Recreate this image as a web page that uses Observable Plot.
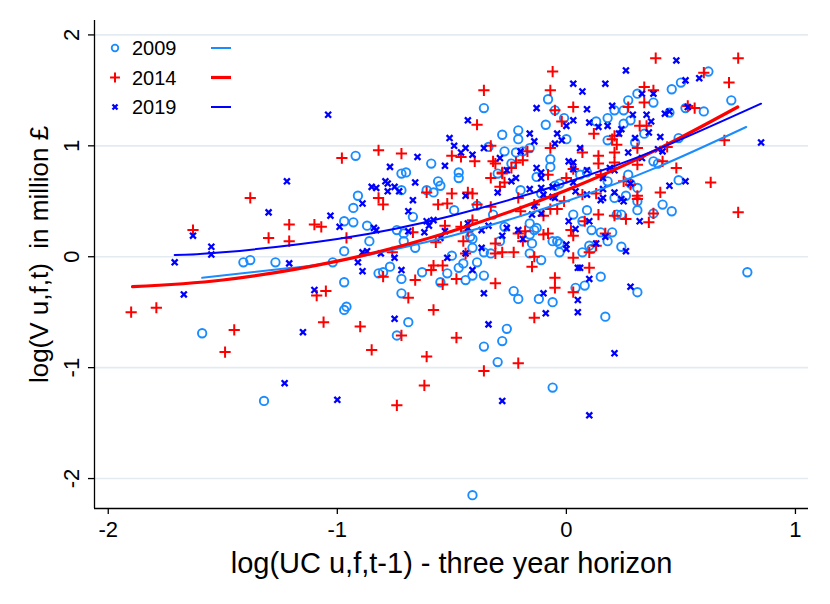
<!DOCTYPE html>
<html><head><meta charset="utf-8">
<script src="https://cdn.jsdelivr.net/npm/d3@7"></script>
<script src="https://cdn.jsdelivr.net/npm/@observablehq/plot@0.6"></script>
<style>body{margin:0;background:#fff;} svg{display:block;}</style>
</head><body><div id="chart"></div>
<script>
const years = ["2009", "2014", "2019"];
const colors = ["#1a8cff", "#ff0000", "#0000ff"];
const xTicks = [-2, -1, 0, 1];
const yTicks = [-2, -1, 0, 1, 2];
const xTitle = "log(UC u,f,t-1) - three year horizon";
const yTitle = "log(V u,f,t)  in million £";

const pts2009 = [[0.62,1.67],[0.72,1.41],[0.50,1.57],[0.46,1.51],[0.38,1.39],[0.31,1.47],[0.27,1.41],[0.21,1.32],[0.25,1.32],[0.18,1.25],
[0.13,1.22],[0.28,1.23],[0.25,1.20],[0.34,1.11],[0.18,1.05],[0.30,1.03],[0.49,1.07],[0.52,1.34],[0.60,1.31],[0.45,1.30],
[0.38,0.86],[0.40,0.84],[0.49,0.69],[0.27,0.74],[0.31,0.62],[0.18,0.68],[0.06,0.74],[0.09,0.76],[0.26,0.55],[0.21,0.53],
[-0.36,1.34],[-0.92,0.91],[-0.91,0.55],[-0.28,1.10],[-0.21,1.14],[-0.21,1.06],[-0.08,1.42],[-0.05,1.32],[-0.09,1.19],[-0.01,1.25],
[0.00,1.06],[-0.27,0.95],[-0.34,0.99],[-0.22,0.94],[-0.19,0.95],[-0.16,0.98],[-0.59,0.84],[-0.72,0.75],[-0.70,0.76],[-0.47,0.76],
[-0.47,0.71],[-0.56,0.68],[-0.55,0.64],[-0.61,0.60],[-0.58,0.58],[-0.72,0.60],[-0.07,0.88],[-0.07,0.81],[-0.13,0.72],[-0.24,0.84],
[-0.30,0.75],[-0.20,0.60],[-0.03,0.66],[-0.11,0.57],[-0.93,0.44],[-0.97,0.32],[-0.93,0.31],[-0.87,0.28],[-0.86,0.14],[-0.97,0.05],
[-1.02,-0.05],[-0.67,0.36],[-0.74,0.24],[-0.71,0.21],[-0.71,0.14],[-0.66,0.08],[-0.49,0.42],[-0.39,0.46],[-0.32,0.38],[-0.42,0.18],
[-0.41,0.16],[-0.41,0.08],[-0.36,0.04],[-0.33,0.03],[-0.29,0.14],[-0.27,0.27],[-0.16,0.30],[-0.14,0.24],[-0.13,0.26],[-0.16,0.20],
[-0.15,0.12],[-0.06,0.14],[-0.04,0.14],[-0.03,0.12],[-0.03,0.04],[0.03,0.38],[-0.16,0.03],[-0.11,-0.03],[-0.39,-0.05],[-0.45,-0.06],
[-0.47,-0.10],[-0.52,-0.15],[-0.50,0.01],[-0.63,-0.14],[-0.72,-0.20],[-0.77,-0.09],[-0.80,-0.14],[-0.82,-0.15],[-0.97,-0.23],[-0.72,-0.33],
[-0.55,-0.23],[-0.44,-0.21],[-0.41,-0.17],[-0.36,-0.17],[-0.23,-0.31],[-0.21,-0.38],[-0.12,-0.38],[-0.06,-0.41],[0.04,-0.28],[-0.96,-0.45],
[-0.97,-0.48],[-0.69,-0.59],[-0.74,-0.71],[-0.26,-0.65],[-0.28,-0.76],[-0.36,-0.81],[-0.30,-0.95],[-1.59,-0.69],[-1.41,-0.05],[-1.38,-0.03],
[-1.27,-0.05],[-1.32,-1.30],[-0.41,-2.15],[-0.06,-1.18],
[0.09,0.42],[0.07,0.32],[0.11,0.24],[0.15,0.22],[0.20,0.22],[0.18,0.14],[0.22,0.38],[0.24,0.38],[0.31,0.42],[0.31,0.50],
[0.42,0.47],[0.46,0.41],[0.38,0.39],[0.24,0.09],[0.10,0.10],[0.07,0.04],[0.11,0.07],[0.15,-0.18],[0.08,-0.26],[0.31,-0.32],
[0.17,-0.54],[0.79,-0.14],[-0.05,0.64],[0.28,0.66]];

const pts2014 = [[0.39,1.79],[0.75,1.79],[0.60,1.66],[0.71,1.57],[0.34,1.53],[0.38,1.50],[0.34,1.39],[0.27,1.35],[0.53,1.36],[0.56,1.34],
[0.03,1.35],[0.32,1.18],[0.35,1.18],[0.12,1.11],[0.21,1.09],[0.20,1.06],[0.22,1.01],[0.31,0.98],[0.07,0.94],[0.14,0.91],
[0.14,0.84],[0.21,0.94],[0.21,0.85],[0.31,0.83],[0.44,0.99],[0.42,0.86],[0.48,0.80],[0.69,1.05],[0.63,0.67],[0.41,0.58],
[0.15,0.74],[0.13,0.57],[0.07,0.56],[0.25,0.68],[0.28,0.65],[0.31,0.55],[0.03,0.79],[-0.06,1.67],[-0.07,1.50],[-0.05,1.32],
[-0.02,1.22],[-0.36,1.50],[-0.39,1.19],[-0.98,0.89],[-0.82,0.96],[-0.72,0.93],[-0.50,0.91],[-0.46,0.90],[-0.40,0.86],[-0.33,1.00],
[-0.32,0.86],[-0.31,0.84],[-0.28,0.76],[-0.28,0.75],[-0.24,0.80],[-0.22,0.85],[-0.19,0.87],[-0.17,0.95],[-0.07,0.98],[-0.08,0.74],
[0.00,0.71],[-0.33,0.71],[-0.29,0.63],[-0.27,0.67],[-0.61,0.58],[-0.50,0.57],[-0.43,0.58],[-0.41,0.57],[-0.82,0.53],[-0.21,0.53],
[-0.80,0.47],[-0.56,0.47],[-0.52,0.48],[-0.39,0.47],[-0.33,0.45],[-0.41,0.33],[-0.46,0.27],[-0.53,0.28],[-0.43,0.23],[-0.67,0.22],
[-0.96,0.17],[-0.45,0.14],[-0.57,0.13],[-0.76,0.04],[-0.31,0.12],[-0.31,0.03],[-0.28,0.04],[-0.23,0.04],[-0.44,0.03],[-0.20,0.41],
[-0.14,0.47],[-0.07,0.43],[-0.10,0.37],[-0.01,0.50],[-0.04,0.43],[-0.21,0.21],[-0.19,0.14],[-0.18,0.23],[-0.10,0.20],[-0.08,0.21],
[0.02,0.24],[0.03,-0.01],[-0.15,-0.09],[-0.14,0.00],[-0.58,-0.08],[-0.54,-0.08],[-0.59,-0.12],[-0.80,-0.18],[-0.66,-0.21],[-0.54,-0.25],
[-0.48,-0.20],[-0.31,-0.24],[-0.05,-0.19],[-0.05,-0.28],[-0.69,-0.37],[0.03,-0.32],[-0.58,-0.48],[-0.14,-0.55],[-0.90,-0.63],[-0.72,-0.71],
[-0.48,-0.73],[-0.85,-0.84],[-0.61,-0.90],[-0.21,-0.96],[-0.36,-1.03],[-1.38,0.53],[-1.63,0.24],[-1.30,0.17],[-1.21,0.14],[-1.21,0.29],
[-1.10,0.29],[-1.07,0.27],[-1.09,-0.35],[-1.05,-0.31],[-1.06,-0.59],[-1.90,-0.50],[-1.79,-0.46],[-1.45,-0.66],[-1.49,-0.86],[0.31,0.52],
[0.14,0.38],[0.21,0.37],[0.26,0.34],[0.36,0.31],[0.38,0.39],[0.08,0.32],[0.03,0.19],[0.17,0.21],[0.13,0.10],[0.10,0.04],
[0.10,-0.10],[0.75,0.40],[-0.74,-1.34],[-0.62,-1.16]];

const pts2019 = [[0.48,1.77],[0.26,1.68],[0.17,1.56],[0.03,1.56],[0.07,1.49],[0.58,1.61],[0.52,1.59],[0.38,1.47],[0.33,1.47],[0.20,1.36],
[0.09,1.33],[0.03,1.23],[0.10,1.21],[0.14,1.17],[0.18,1.18],[0.35,1.28],[0.37,1.22],[0.29,1.28],[0.45,1.31],[0.43,1.29],
[0.53,1.35],[0.24,1.15],[0.23,1.11],[0.36,1.12],[0.41,1.08],[0.30,1.07],[0.27,0.94],[0.40,0.97],[0.42,0.95],[0.33,0.89],
[0.06,0.98],[0.85,1.03],[0.19,0.80],[0.21,0.78],[0.09,0.78],[0.03,0.85],[0.03,0.79],[0.45,0.64],[0.52,0.68],[0.16,0.71],
[0.03,0.67],[0.21,0.58],[0.16,0.61],[0.04,0.59],[0.24,0.52],[0.28,0.66],[0.09,0.56],[0.00,1.18],[-0.13,1.34],[-0.43,1.23],
[-0.51,1.07],[-0.49,1.00],[-0.44,0.98],[-0.46,0.94],[-0.41,0.92],[-0.36,0.98],[-0.65,0.90],[-0.77,0.81],[-0.53,0.82],[-0.16,1.11],
[-0.14,1.04],[-0.04,1.11],[-0.05,1.02],[-0.02,1.05],[-0.20,0.95],[-0.13,0.80],[-0.11,0.76],[-0.11,0.71],[-0.06,0.63],[0.01,0.86],
[-0.29,0.89],[-0.26,0.78],[-0.22,0.71],[-0.24,0.68],[-0.30,0.58],[-0.16,0.61],[-0.11,0.62],[-0.06,0.54],[-0.66,0.67],[-0.85,0.63],
[-0.83,0.62],[-0.79,0.68],[-0.78,0.66],[-0.78,0.59],[-0.75,0.63],[-0.73,0.59],[-0.44,0.55],[-0.67,0.51],[-0.89,0.48],[-0.69,0.41],
[-0.61,0.32],[-0.58,0.33],[-0.60,0.28],[-0.43,0.30],[-0.43,0.26],[-0.37,0.24],[-0.34,0.28],[-0.99,0.27],[-0.84,0.26],[-0.83,0.24],
[-0.69,0.23],[-0.62,0.22],[-0.53,0.23],[-0.55,0.17],[-0.37,0.08],[-0.44,0.03],[-0.89,0.04],[-0.87,0.05],[-0.81,0.03],[-0.91,-0.05],
[-0.75,-0.01],[-0.52,-0.01],[-0.28,0.19],[-0.26,0.26],[-0.21,0.24],[-0.19,0.16],[-0.15,0.38],[-0.14,0.46],[-0.11,0.39],[-0.10,0.56],
[-0.05,0.53],[0.00,0.11],[0.00,0.07],[0.01,0.32],[-0.89,-0.13],[-0.72,-0.12],[-0.41,-0.12],[-0.36,-0.33],[-0.10,-0.33],[-0.09,-0.51],
[0.05,-0.39],[0.05,-0.10],[-0.75,-0.56],[-0.34,-0.61],[-1.03,0.37],[-1.30,0.40],[-1.63,0.19],[-1.55,0.09],[-1.55,0.02],[-1.71,-0.05],
[-1.21,-0.06],[-1.67,-0.34],[-1.10,-0.30],[-1.15,-0.68],[-1.04,1.28],[-1.22,0.68],[0.15,0.51],[0.16,0.53],[0.25,0.50],[0.32,0.32],
[0.10,0.32],[0.04,0.25],[0.17,0.18],[0.13,0.12],[0.26,0.05],[0.06,-0.10],[0.10,-0.20],[0.28,-0.27],[0.05,-0.50],[0.21,-0.87],
[-1.23,-1.14],[-1.00,-1.29],[-0.28,-1.30],[0.10,-1.43]];

// fitted curves
const fit2009 = [[-1.59,-0.19],[-1.2,-0.10],[-1.0,-0.04],[-0.5,0.19],[0,0.50],[0.4,0.81],[0.785,1.17]];
const fit2014 = [[-1.894,-0.27],[-1.5,-0.21],[-1.0,-0.04],[-0.5,0.23],[0,0.60],[0.4,0.97],[0.748,1.35]];
const fit2019 = [[-1.71,0.015],[-1.5,0.04],[-1.0,0.16],[-0.5,0.37],[0,0.67],[0.4,0.97],[0.85,1.38]];

const xDomain = [-2.06, 1.057];
const yDomain = [-2.27, 2.13];
const fmt = d => String(d);
const font = "'Liberation Sans', Arial, Helvetica, sans-serif";

const plot = Plot.plot({
  width: 830, height: 604,
  marginLeft: 94, marginRight: 22, marginTop: 20, marginBottom: 96,
  x: {domain: xDomain},
  y: {domain: yDomain},
  style: {fontFamily: font, background: "#fff", color: "#000", overflow: "visible"},
  marks: [
    Plot.gridY(yTicks, {stroke: "#e4ebf0", strokeOpacity: 1, strokeWidth: 1.6}),
    Plot.dot(pts2009, {x: d => d[0], y: d => d[1], r: 4.2, stroke: colors[0], strokeWidth: 1.9, fill: "none"}),
    Plot.dot(pts2014, {x: d => d[0], y: d => d[1], symbol: "plus", r: 3.7, stroke: colors[1], strokeWidth: 2, fill: "none"}),
    Plot.dot(pts2019, {x: d => d[0], y: d => d[1], symbol: "times", r: 2.8, stroke: colors[2], strokeWidth: 2.3, fill: "none"}),
    Plot.line(fit2009, {x: d => d[0], y: d => d[1], curve: "natural", stroke: colors[0], strokeWidth: 2}),
    Plot.line(fit2014, {x: d => d[0], y: d => d[1], curve: "natural", stroke: colors[1], strokeWidth: 3.2}),
    Plot.line(fit2019, {x: d => d[0], y: d => d[1], curve: "natural", stroke: colors[2], strokeWidth: 2}),
    Plot.ruleX([xDomain[0]], {stroke: "#000", strokeWidth: 1.3}),
    Plot.ruleY([yDomain[0]], {stroke: "#000", strokeWidth: 1.3}),
    Plot.axisX(xTicks, {tickSize: 6, tickPadding: 7, fontSize: 22, tickFormat: fmt, label: null, strokeWidth: 1.3}),
    Plot.axisY(yTicks, {tickSize: 6, tickFormat: () => "", label: null, strokeWidth: 1.3}),
    Plot.text(yTicks, {y: d => d, text: fmt, frameAnchor: "left", dx: -23, rotate: -90, fontSize: 22, textAnchor: "middle", lineAnchor: "middle"}),
    Plot.text([xTitle], {text: d => d, frameAnchor: "bottom", dy: 55, fontSize: 29, textAnchor: "middle", lineAnchor: "middle"}),
    Plot.text([yTitle], {text: d => d, frameAnchor: "left", dx: -55, dy: -10, rotate: -90, fontSize: 26, textAnchor: "middle", lineAnchor: "middle"})
  ]
});
document.getElementById("chart").appendChild(plot);

// legend (inside the plot, top-left)
const svg = d3.select(plot);
const lg = svg.append("g").attr("font-family", font).attr("font-size", 20).attr("text-anchor", "start");
const lineW = [2, 3.2, 2];
years.forEach((yr, i) => {
  const cy = 48 + 29.5 * i;
  const g = lg.append("g");
  if (i === 0) {
    g.append("circle").attr("cx", 115).attr("cy", cy).attr("r", 3.3)
      .attr("fill", "none").attr("stroke", colors[i]).attr("stroke-width", 1.8);
  } else {
    const sym = i === 1 ? d3.symbolPlus : d3.symbolTimes;
    const size = i === 1 ? 34 : 18;
    g.append("path").attr("d", d3.symbol(sym, size)()).attr("transform", `translate(115,${cy})`)
      .attr("fill", "none").attr("stroke", colors[i]).attr("stroke-width", i === 1 ? 2 : 2.3);
  }
  g.append("text").attr("x", 132).attr("y", cy).attr("dy", "0.36em").attr("fill", "#000").attr("text-anchor", "start").text(yr);
  g.append("line").attr("x1", 211).attr("x2", 231).attr("y1", cy).attr("y2", cy)
    .attr("stroke", colors[i]).attr("stroke-width", lineW[i]);
});
</script>
</body></html>
